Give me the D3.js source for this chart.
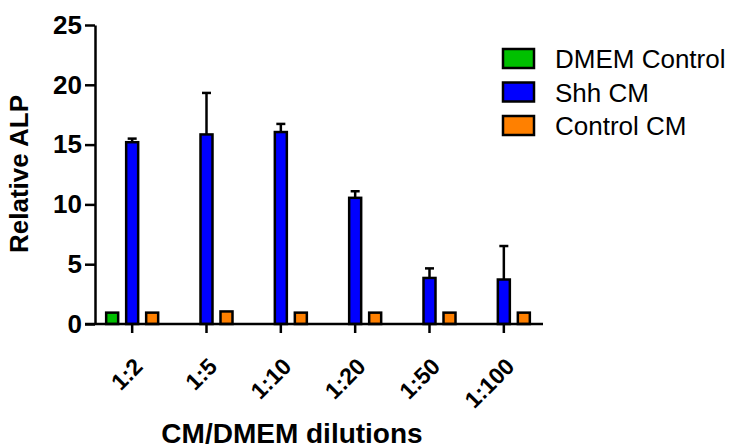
<!DOCTYPE html>
<html lang="en">
<head>
    <meta charset="UTF-8">
    <title>Relative ALP</title>
    <script src="https://d3js.org/d3.v7.min.js"></script>
    <style>
        body { margin: 0; background: #fff; }
        svg { display: block; font-family: "Liberation Sans", Arial, sans-serif; }
    </style>
</head>
<body>
    <div id="chart"></div>

    <script>
        // values
        const categories = ["1:2", "1:5", "1:10", "1:20", "1:50", "1:100"];
        const dmemControl = [0.95, null, null, null, null, null];
        const shhCM = [15.2, 15.85, 16.05, 10.55, 3.85, 3.72];
        const shhErr = [0.3, 3.47, 0.68, 0.55, 0.8, 2.8];
        const controlCM = [0.95, 1.05, 0.95, 0.95, 0.95, 0.95];
        const yTicks = [0, 5, 10, 15, 20, 25];

        const seriesNames = ["DMEM Control", "Shh CM", "Control CM"];
        const seriesColors = ["#00c000", "#0000ff", "#ff8000"];
        const seriesOffsets = [-20, 0, 20];

        const width = 740, height = 448;
        const plotLeft = 95, plotRight = 541, plotTop = 25, plotBottom = 324;

        const svg = d3.select("#chart").append("svg")
            .attr("width", width)
            .attr("height", height);

        const x = d3.scaleBand().domain(categories).range([plotLeft, plotRight]).padding(0);
        const y = d3.scaleLinear().domain([0, 25]).range([plotBottom, plotTop]);

        const barW = 12;
        const allSeries = [dmemControl, shhCM, controlCM];

        // bars
        allSeries.forEach((vals, si) => {
            const data = categories.map((c, i) => ({ c, v: vals[i], i })).filter(d => d.v != null);
            svg.append("g").selectAll("rect")
                .data(data)
                .enter().append("rect")
                .attr("x", d => x(d.c) + x.bandwidth() / 2 + seriesOffsets[si] - barW / 2)
                .attr("y", d => y(d.v))
                .attr("width", barW)
                .attr("height", d => y(0) - y(d.v))
                .attr("fill", seriesColors[si])
                .attr("stroke", "#000")
                .attr("stroke-width", 2.5);
        });

        // error bars (upper only)
        const errData = categories.map((c, i) => ({ c, v: shhCM[i], e: shhErr[i] }));
        const eg = svg.append("g").attr("stroke", "#000").attr("stroke-width", 2.5);
        errData.forEach(d => {
            const cx = x(d.c) + x.bandwidth() / 2;
            eg.append("line")
                .attr("x1", cx).attr("x2", cx)
                .attr("y1", y(d.v)).attr("y2", y(d.v + d.e));
            eg.append("line")
                .attr("x1", cx - 4.5).attr("x2", cx + 4.5)
                .attr("y1", y(d.v + d.e)).attr("y2", y(d.v + d.e));
        });

        // y axis
        const yAxis = svg.append("g")
            .attr("transform", `translate(${plotLeft},0)`)
            .call(d3.axisLeft(y).tickValues(yTicks).tickSize(10).tickSizeOuter(0).tickPadding(3));
        yAxis.select(".domain").attr("stroke-width", 2.5);
        yAxis.selectAll(".tick line").attr("stroke-width", 2.5);
        yAxis.selectAll(".tick text")
            .attr("font-size", 26)
            .attr("font-weight", "bold")
            .attr("fill", "#000");

        // x axis
        const xAxis = svg.append("g")
            .attr("transform", `translate(0,${plotBottom})`)
            .call(d3.axisBottom(x).tickSize(9).tickSizeOuter(0));
        xAxis.select(".domain").attr("stroke-width", 2.5).attr("d", `M${plotLeft - 10},0H${plotRight + 2}`);
        xAxis.selectAll(".tick line").attr("stroke-width", 2.5);
        xAxis.selectAll(".tick text")
            .attr("font-size", 23)
            .attr("font-weight", "bold")
            .attr("fill", "#000")
            .attr("text-anchor", "end")
            .attr("dy", null)
            .attr("y", 0)
            .attr("transform", "translate(12,44) rotate(-45)");

        // axis titles
        svg.append("text")
            .attr("transform", "translate(28,174) rotate(-90)")
            .attr("text-anchor", "middle")
            .attr("font-size", 26)
            .attr("font-weight", "bold")
            .text("Relative ALP");

        svg.append("text")
            .attr("x", 292)
            .attr("y", 443)
            .attr("text-anchor", "middle")
            .attr("font-size", 28)
            .attr("font-weight", "bold")
            .text("CM/DMEM dilutions");

        // legend
        const legend = svg.append("g").attr("transform", "translate(503,49)");
        seriesNames.forEach((name, i) => {
            const g = legend.append("g").attr("transform", `translate(0,${i * 33.5})`);
            g.append("rect")
                .attr("width", 31).attr("height", 19)
                .attr("fill", seriesColors[i])
                .attr("stroke", "#000")
                .attr("stroke-width", 2.5);
            g.append("text")
                .attr("x", 52)
                .attr("y", 19)
                .attr("font-size", 26)
                .text(name);
        });
    </script>
</body>
</html>
